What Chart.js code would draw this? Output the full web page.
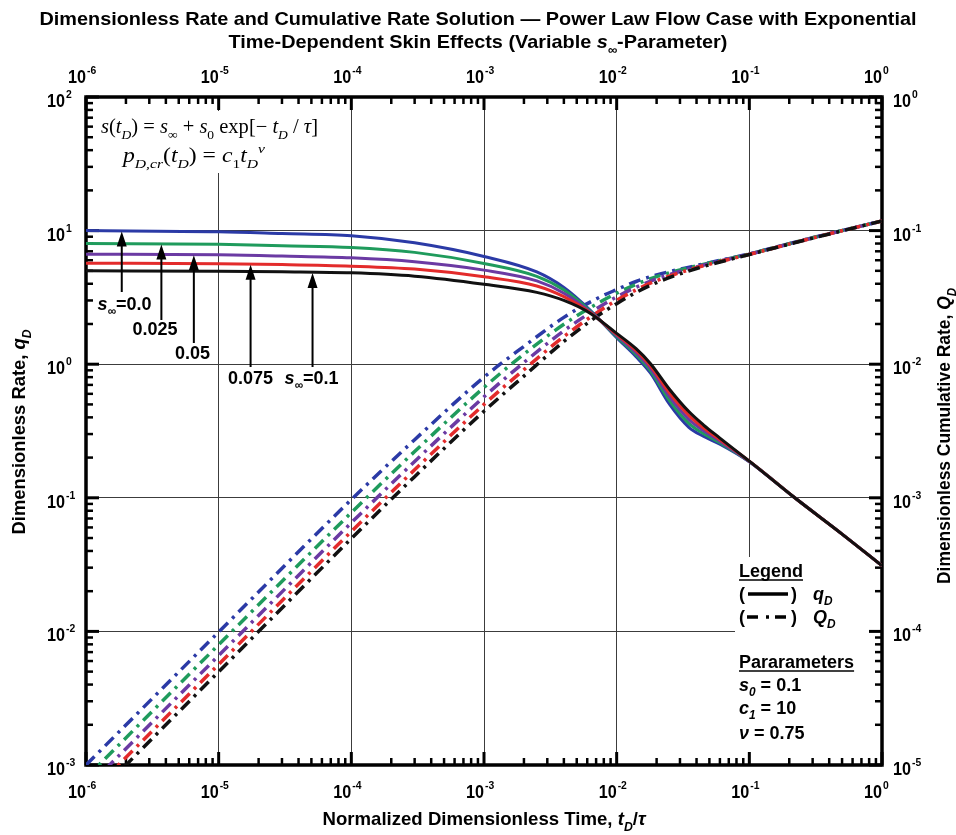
<!DOCTYPE html>
<html>
<head>
<meta charset="utf-8">
<title>Dimensionless Rate and Cumulative Rate Solution</title>
<script src="https://cdn.jsdelivr.net/npm/chart.js@4.4.1/dist/chart.umd.min.js"></script>
<style>
  html, body { margin: 0; padding: 0; background: #ffffff; }
  #wrap { width: 956px; height: 835px; }
</style>
</head>
<body>
<div id="wrap"><canvas id="chart" width="956" height="835"></canvas></div>
<script>
// ---- dimensionless rate q_D (left axis), solid lines ----
const timeRate = [1e-6, 1e-5, 3e-5, 1e-4, 3e-4, 1e-3, 2.5e-3, 4e-3, 6.3e-3, 1e-2, 1.4e-2, 1.8e-2, 2.5e-2, 3.5e-2, 4.5e-2, 6e-2, 1e-1, 2.2e-1, 5e-1, 1];
const rateS000 = [10.0, 9.8, 9.5, 9.15, 8.1, 6.4, 4.9, 3.75, 2.54, 1.58, 1.138, 0.856, 0.502, 0.337, 0.289, 0.252, 0.186, 0.1, 0.0535, 0.031];
const rateS025 = [8.0, 7.9, 7.7, 7.48, 6.87, 5.68, 4.55, 3.6, 2.51, 1.61, 1.178, 0.892, 0.535, 0.361, 0.303, 0.258, 0.187, 0.1, 0.0535, 0.031];
const rateS050 = [6.65, 6.6, 6.45, 6.25, 5.84, 5.06, 4.2, 3.4, 2.47, 1.64, 1.219, 0.929, 0.571, 0.386, 0.319, 0.265, 0.187, 0.1, 0.0535, 0.031];
const rateS075 = [5.7, 5.65, 5.57, 5.42, 5.15, 4.51, 3.85, 3.2, 2.44, 1.67, 1.262, 0.968, 0.609, 0.414, 0.334, 0.272, 0.188, 0.1, 0.0535, 0.031];
const rateS100 = [5.0, 4.97, 4.92, 4.83, 4.56, 3.97, 3.45, 3.0, 2.41, 1.70, 1.306, 1.009, 0.650, 0.442, 0.352, 0.280, 0.188, 0.1, 0.0535, 0.031];

// ---- dimensionless cumulative rate Q_D (right axis), dash-dot lines ----
const timeCum = [1e-6, 1e-5, 1e-4, 3e-4, 1e-3, 2e-3, 4e-3, 7e-3, 1e-2, 1.4e-2, 2e-2, 4e-2, 1e-1, 3e-1, 1];
const cumS000 = [1.0e-5, 9.9e-5, 9.7e-4, 2.72e-3, 8.0e-3, 0.0136, 0.0224, 0.0308, 0.0362, 0.0416, 0.0466, 0.0548, 0.067, 0.0885, 0.118];
const cumS025 = [8.0e-6, 7.95e-5, 7.75e-4, 2.22e-3, 6.7e-3, 0.0119, 0.0199, 0.0281, 0.034, 0.0396, 0.0453, 0.0544, 0.0668, 0.0884, 0.118];
const cumS050 = [6.65e-6, 6.6e-5, 6.5e-4, 1.87e-3, 5.7e-3, 0.0103, 0.0178, 0.0259, 0.0319, 0.0376, 0.0436, 0.0535, 0.0666, 0.0882, 0.118];
const cumS075 = [5.7e-6, 5.67e-5, 5.6e-4, 1.62e-3, 5.0e-3, 9.1e-3, 0.0161, 0.0241, 0.0301, 0.036, 0.0422, 0.0528, 0.0664, 0.088, 0.118];
const cumS100 = [5.0e-6, 4.99e-5, 4.95e-4, 1.44e-3, 4.45e-3, 8.15e-3, 0.0148, 0.0226, 0.0284, 0.0344, 0.0408, 0.052, 0.0662, 0.0878, 0.118];

// ---- s_inf parameter values, arrow anchors on the q_D plateaus ----
const sInfValues = ['0.0', '0.025', '0.05', '0.075', '0.1'];
const arrowTime = [1.86e-6, 3.7e-6, 6.5e-6, 1.74e-5, 5.1e-5];
const arrowRate = [10.0, 8.0, 6.64, 5.64, 4.9];

// ---- axis decades ----
const timeTicks = [1e-6, 1e-5, 1e-4, 1e-3, 1e-2, 1e-1, 1];
const rateTicks = [1e-3, 1e-2, 1e-1, 1, 10, 100];
const cumTicks = [1e-5, 1e-4, 1e-3, 1e-2, 1e-1, 1];

const SANS = '"Liberation Sans", Arial, Helvetica, sans-serif';
const SERIF = '"Liberation Serif", "Times New Roman", Times, serif';
const colors = ['#2b3aa6', '#1f9b5c', '#6b3aa3', '#e32b2b', '#111111'];
const rateSeries = [rateS000, rateS025, rateS050, rateS075, rateS100];
const cumSeries = [cumS000, cumS025, cumS050, cumS075, cumS100];

const datasets = [];
// black (s_inf = 0.1) drawn last so it sits on top
for (let k = 4; k >= 0; k--) {
  datasets.push({
    label: 'q_D, s_inf=' + sInfValues[k],
    data: timeRate.map((t, i) => ({ x: t, y: rateSeries[k][i] })),
    yAxisID: 'y',
    borderColor: colors[k],
    borderWidth: 3,
    pointRadius: 0,
    fill: false,
    cubicInterpolationMode: 'monotone',
    order: 4 - k
  });
}
for (let k = 4; k >= 0; k--) {
  datasets.push({
    label: 'Q_D, s_inf=' + sInfValues[k],
    data: timeCum.map((t, i) => ({ x: t, y: cumSeries[k][i] })),
    yAxisID: 'yQ',
    borderColor: colors[k],
    borderWidth: 3.5,
    borderDash: [12, 6, 3, 6],
    borderCapStyle: 'butt',
    pointRadius: 0,
    fill: false,
    cubicInterpolationMode: 'monotone',
    order: 9 - k
  });
}

// ---- rich text helpers (italic, sub/superscripts, horizontal fitting) ----
function segFont(s, o) {
  const size = (s.sub || s.sup) ? o.size * 0.66 : o.size;
  return (s.i ? 'italic ' : '') + (o.weight || 'normal') + ' ' + size.toFixed(2) + 'px ' + (o.family || SANS);
}
function measureRich(ctx, segs, o) {
  let w = 0;
  for (const s of segs) { ctx.font = segFont(s, o); w += ctx.measureText(s.t).width; }
  return w;
}
function drawRich(ctx, segs, x, y, o) {
  const natural = measureRich(ctx, segs, o);
  const sx = o.width ? o.width / natural : (o.sx || 1);
  const total = natural * sx;
  const x0 = o.align === 'center' ? x - total / 2 : (o.align === 'right' ? x - total : x);
  ctx.save();
  ctx.translate(x0, y);
  ctx.scale(sx, 1);
  ctx.fillStyle = o.color || '#000';
  ctx.textAlign = 'left';
  ctx.textBaseline = 'alphabetic';
  let cx = 0;
  for (const s of segs) {
    ctx.font = segFont(s, o);
    const dy = s.sub ? o.size * 0.3 : (s.sup ? -o.size * 0.45 : 0);
    ctx.fillText(s.t, cx, dy);
    cx += ctx.measureText(s.t).width;
  }
  ctx.restore();
  return { x0: x0, total: total, sx: sx };
}
function expLabel(e) { return e < 0 ? '-' + (-e) : String(e); }
function minorValues(lo, hi) {
  const out = [];
  for (let d = lo; d < hi; d++) for (let m = 2; m <= 9; m++) out.push(m * Math.pow(10, d));
  return out;
}

const decorations = {
  id: 'decorations',
  beforeDatasetsDraw(chart) {
    const { ctx, chartArea: a, scales } = chart;
    ctx.save();
    // white panels behind the formulas and the legend block
    ctx.fillStyle = '#ffffff';
    ctx.fillRect(95, 111, 243, 62);
    ctx.fillRect(735, 557, 135, 195);

    // inward tick marks
    ctx.strokeStyle = '#000';
    const tick = (x1, y1, x2, y2, w) => { ctx.lineWidth = w; ctx.beginPath(); ctx.moveTo(x1, y1); ctx.lineTo(x2, y2); ctx.stroke(); };
    const sx = scales.x, sy = scales.y, sq = scales.yQ;
    for (const v of minorValues(-6, 0)) {
      const p = sx.getPixelForValue(v);
      tick(p, a.bottom, p, a.bottom - 7, 2.5); tick(p, a.top, p, a.top + 7, 2.5);
    }
    for (const v of timeTicks) {
      const p = sx.getPixelForValue(v);
      tick(p, a.bottom, p, a.bottom - 13, 3); tick(p, a.top, p, a.top + 13, 3);
    }
    for (const v of minorValues(-3, 2)) {
      const p = sy.getPixelForValue(v);
      tick(a.left, p, a.left + 7, p, 2.5);
    }
    for (const v of rateTicks) { const p = sy.getPixelForValue(v); tick(a.left, p, a.left + 13, p, 3); }
    for (const v of minorValues(-5, 0)) {
      const p = sq.getPixelForValue(v);
      tick(a.right, p, a.right - 7, p, 2.5);
    }
    for (const v of cumTicks) { const p = sq.getPixelForValue(v); tick(a.right, p, a.right - 13, p, 3); }

    // frame
    ctx.lineWidth = 3.5;
    ctx.strokeRect(a.left, a.top, a.right - a.left, a.bottom - a.top);
    ctx.restore();
  },
  afterDatasetsDraw(chart) {
    const { ctx, scales } = chart;
    const sx = scales.x, sy = scales.y, sq = scales.yQ;
    ctx.save();

    // ---- decade tick labels ----
    const big = { size: 18, weight: 'bold', family: SANS, sx: 0.9 };
    const small = { size: 11.5, weight: 'bold', family: SANS, sx: 0.9 };
    for (const v of timeTicks) {
      const p = sx.getPixelForValue(v), e = Math.round(Math.log10(v));
      drawRich(ctx, [{ t: '10' }], p, 83, Object.assign({ align: 'right' }, big));
      drawRich(ctx, [{ t: expLabel(e) }], p + 1, 74, small);
      drawRich(ctx, [{ t: '10' }], p, 798, Object.assign({ align: 'right' }, big));
      drawRich(ctx, [{ t: expLabel(e) }], p + 1, 789, small);
    }
    for (const v of rateTicks) {
      const p = sy.getPixelForValue(v), e = Math.round(Math.log10(v));
      drawRich(ctx, [{ t: '10' }], 65, p + 10, Object.assign({ align: 'right' }, big));
      drawRich(ctx, [{ t: expLabel(e) }], 66, p + 1, small);
    }
    for (const v of cumTicks) {
      const p = sq.getPixelForValue(v), e = Math.round(Math.log10(v));
      const r = drawRich(ctx, [{ t: '10' }], 893, p + 10, big);
      drawRich(ctx, [{ t: expLabel(e) }], 893 + r.total + 1, p + 1, small);
    }

    // ---- chart title ----
    const tOpt = { size: 19, weight: 'bold', family: SANS, align: 'center' };
    const t1 = drawRich(ctx, [{ t: 'Dimensionless Rate and Cumulative Rate Solution \u2014 Power Law Flow Case with Exponential' }],
      478, 25, Object.assign({ width: 877 }, tOpt));
    drawRich(ctx, [{ t: 'Time-Dependent Skin Effects (Variable ' }, { t: 's', i: 1 }, { t: '\u221E', i: 1, sub: 1 }, { t: '-Parameter)' }],
      478, 48, Object.assign({ sx: t1.sx }, tOpt));

    // ---- axis titles ----
    const axOpt = { size: 19, weight: 'bold', family: SANS, align: 'center' };
    drawRich(ctx, [{ t: 'Normalized Dimensionless Time, ' }, { t: 't', i: 1 }, { t: 'D', i: 1, sub: 1 }, { t: '/' }, { t: '\u03C4', i: 1 }],
      484, 825, Object.assign({ width: 323 }, axOpt));
    ctx.save();
    ctx.translate(25, 432); ctx.rotate(-Math.PI / 2);
    drawRich(ctx, [{ t: 'Dimensionless Rate, ' }, { t: 'q', i: 1 }, { t: 'D', i: 1, sub: 1 }], 0, 0, Object.assign({ width: 205 }, axOpt));
    ctx.restore();
    ctx.save();
    ctx.translate(950, 436); ctx.rotate(-Math.PI / 2);
    drawRich(ctx, [{ t: 'Dimensionless Cumulative Rate, ' }, { t: 'Q', i: 1 }, { t: 'D', i: 1, sub: 1 }], 0, 0, Object.assign({ width: 296 }, axOpt));
    ctx.restore();

    // ---- formulas ----
    const eq = { size: 20, family: SERIF };
    drawRich(ctx, [{ t: 's', i: 1 }, { t: '(' }, { t: 't', i: 1 }, { t: 'D', i: 1, sub: 1 }, { t: ') = ' }, { t: 's', i: 1 }, { t: '\u221E', sub: 1 },
      { t: ' + ' }, { t: 's', i: 1 }, { t: '0', sub: 1 }, { t: ' exp[\u2212 ' }, { t: 't', i: 1 }, { t: 'D', i: 1, sub: 1 }, { t: ' / ' }, { t: '\u03C4', i: 1 }, { t: ']' }],
      101, 133, Object.assign({ width: 217 }, eq));
    drawRich(ctx, [{ t: 'p', i: 1 }, { t: 'D,cr', i: 1, sub: 1 }, { t: '(' }, { t: 't', i: 1 }, { t: 'D', i: 1, sub: 1 }, { t: ') = ' },
      { t: 'c', i: 1 }, { t: '1', sub: 1 }, { t: 't', i: 1 }, { t: 'D', i: 1, sub: 1 }, { t: '\u03BD', i: 1, sup: 1 }],
      123, 162, Object.assign({ width: 142 }, eq));

    // ---- s_inf arrows and labels ----
    const tails = [292, 320, 343, 367, 367];
    const labelPos = [[124.5, 310], [155, 335], [192.5, 359], [250.5, 384], [311.5, 384]];
    ctx.strokeStyle = '#000'; ctx.fillStyle = '#000';
    for (let k = 0; k < 5; k++) {
      const x = sx.getPixelForValue(arrowTime[k]);
      const yTip = sy.getPixelForValue(arrowRate[k]) + 1;
      ctx.lineWidth = 2;
      ctx.beginPath(); ctx.moveTo(x, tails[k]); ctx.lineTo(x, yTip + 10); ctx.stroke();
      ctx.beginPath(); ctx.moveTo(x, yTip); ctx.lineTo(x - 5, yTip + 15); ctx.lineTo(x + 5, yTip + 15); ctx.closePath(); ctx.fill();
      const segs = (k === 0 || k === 4)
        ? [{ t: 's', i: 1 }, { t: '\u221E', i: 1, sub: 1 }, { t: '=' + sInfValues[k] }]
        : [{ t: sInfValues[k] }];
      drawRich(ctx, segs, labelPos[k][0], labelPos[k][1], { size: 18, weight: 'bold', family: SANS, align: 'center' });
    }

    // ---- legend and parameter block ----
    const lg = { size: 18, weight: 'bold', family: SANS };
    const underline = (r, y) => { ctx.lineWidth = 1.6; ctx.beginPath(); ctx.moveTo(r.x0, y); ctx.lineTo(r.x0 + r.total, y); ctx.stroke(); };
    underline(drawRich(ctx, [{ t: 'Legend' }], 739, 577, lg), 580);
    drawRich(ctx, [{ t: '(' }], 739, 600, lg);
    drawRich(ctx, [{ t: ')' }], 791, 600, lg);
    drawRich(ctx, [{ t: 'q', i: 1 }, { t: 'D', i: 1, sub: 1 }], 813, 600, lg);
    drawRich(ctx, [{ t: '(' }], 739, 623, lg);
    drawRich(ctx, [{ t: ')' }], 791, 623, lg);
    drawRich(ctx, [{ t: 'Q', i: 1 }, { t: 'D', i: 1, sub: 1 }], 813, 623, lg);
    ctx.lineWidth = 3.5; ctx.strokeStyle = '#000';
    ctx.beginPath(); ctx.moveTo(748, 594); ctx.lineTo(788, 594); ctx.stroke();
    ctx.setLineDash([11, 8, 3, 6]);
    ctx.beginPath(); ctx.moveTo(747, 617); ctx.lineTo(789, 617); ctx.stroke();
    ctx.setLineDash([]);
    underline(drawRich(ctx, [{ t: 'Pararameters' }], 739, 668, lg), 671);
    drawRich(ctx, [{ t: 's', i: 1 }, { t: '0', i: 1, sub: 1 }, { t: ' = 0.1' }], 739, 691, lg);
    drawRich(ctx, [{ t: 'c', i: 1 }, { t: '1', i: 1, sub: 1 }, { t: ' = 10' }], 739, 714, lg);
    drawRich(ctx, [{ t: '\u03BD', i: 1 }, { t: ' = 0.75' }], 739, 739, lg);

    ctx.restore();
  }
};

new Chart(document.getElementById('chart'), {
  type: 'line',
  data: { datasets: datasets },
  plugins: [decorations],
  options: {
    responsive: false,
    animation: false,
    layout: { padding: { left: 86, right: 74, top: 97, bottom: 70 } },
    plugins: { legend: { display: false }, title: { display: false }, tooltip: { enabled: false } },
    scales: {
      x: {
        type: 'logarithmic', min: 1e-6, max: 1,
        afterBuildTicks: (s) => { s.ticks = timeTicks.map(v => ({ value: v })); },
        ticks: { display: false },
        grid: { color: '#3c3c3c', lineWidth: 1, drawTicks: false },
        border: { display: false }
      },
      y: {
        type: 'logarithmic', position: 'left', min: 1e-3, max: 100,
        afterBuildTicks: (s) => { s.ticks = rateTicks.map(v => ({ value: v })); },
        ticks: { display: false },
        grid: { color: '#3c3c3c', lineWidth: 1, drawTicks: false },
        border: { display: false }
      },
      yQ: {
        type: 'logarithmic', position: 'right', min: 1e-5, max: 1,
        afterBuildTicks: (s) => { s.ticks = cumTicks.map(v => ({ value: v })); },
        ticks: { display: false },
        grid: { display: false, drawTicks: false },
        border: { display: false }
      }
    }
  }
});
</script>
</body>
</html>
